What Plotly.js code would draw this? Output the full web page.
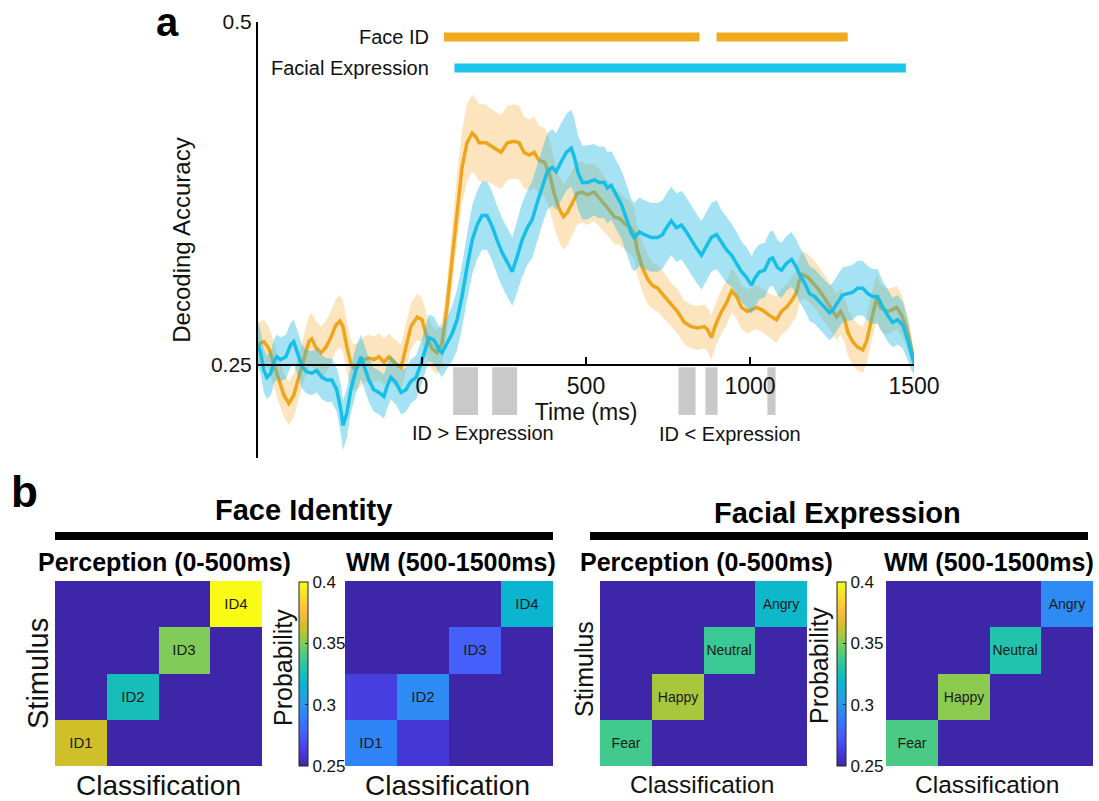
<!DOCTYPE html>
<html>
<head>
<meta charset="utf-8">
<script src="https://cdn.plot.ly/plotly-3.0.1.min.js"></script>
<style>
  html, body { margin: 0; padding: 0; background: #fff; }
  #chart { width: 1099px; height: 801px; }
</style>
</head>
<body>
<div id="chart"></div>
<script>
// ---------------- Panel a: decoding time courses ----------------
const timeTicks = [0, 500, 1000, 1500];
const accTicks = [0.25, 0.5];

const faceIdTime = [-500,-482,-467,-452,-437,-421,-406,-391,-376,-360,
  -345,-336,-324,-308,-293,-278,-263,-250,-241,-229,
  -217,-208,-192,-177,-162,-147,-131,-116,-101,-85,
  -64,-49,-34,-15,0,15,31,46,61,76,
  92,107,122,137,153,165,174,195,214,241,
  260,281,296,311,327,342,357,373,388,403,
  418,431,443,458,473,489,504,525,540,556,
  571,586,602,617,632,647,656,672,687,702,
  718,739,760,779,800,821,840,861,870,882,
  898,913,928,944,959,974,992,1020,1038,1060,
  1081,1096,1111,1127,1142,1151,1160,1176,1191,1206,
  1221,1237,1252,1264,1276,1289,1298,1313,1328,1344,
  1356,1371,1386,1398,1417,1432,1447,1463,1478,1493,
  1500];
const faceIdAcc = [0.265,0.267,0.262,0.251,0.239,0.228,0.222,0.228,0.241,0.255,
  0.267,0.269,0.263,0.259,0.263,0.270,0.279,0.282,0.278,0.263,
  0.251,0.248,0.250,0.254,0.255,0.254,0.256,0.252,0.256,0.252,
  0.248,0.263,0.278,0.285,0.283,0.270,0.262,0.259,0.266,0.292,
  0.329,0.365,0.394,0.412,0.419,0.416,0.412,0.412,0.409,0.405,
  0.412,0.413,0.412,0.405,0.403,0.405,0.399,0.398,0.390,0.375,
  0.364,0.358,0.361,0.368,0.375,0.376,0.374,0.376,0.372,0.367,
  0.363,0.358,0.357,0.353,0.351,0.346,0.334,0.321,0.313,0.308,
  0.306,0.300,0.294,0.289,0.281,0.278,0.277,0.278,0.276,0.270,
  0.281,0.289,0.295,0.304,0.300,0.292,0.289,0.292,0.290,0.286,
  0.283,0.289,0.292,0.297,0.303,0.312,0.316,0.314,0.310,0.306,
  0.301,0.295,0.290,0.285,0.289,0.283,0.274,0.267,0.263,0.261,
  0.268,0.285,0.299,0.292,0.289,0.290,0.292,0.286,0.276,0.261,
  0.252];
const faceIdSem = [0.016,0.016,0.016,0.016,0.016,0.016,0.016,0.016,0.016,0.016,
  0.019,0.019,0.019,0.019,0.019,0.019,0.019,0.019,0.019,0.019,
  0.017,0.017,0.017,0.017,0.017,0.017,0.017,0.017,0.017,0.017,
  0.017,0.017,0.017,0.017,0.016,0.016,0.016,0.016,0.016,0.018,
  0.022,0.025,0.027,0.028,0.028,0.028,0.028,0.028,0.027,0.027,
  0.027,0.027,0.027,0.026,0.026,0.026,0.025,0.025,0.025,0.025,
  0.024,0.024,0.024,0.023,0.023,0.022,0.022,0.021,0.021,0.020,
  0.020,0.020,0.019,0.019,0.019,0.019,0.018,0.018,0.018,0.017,
  0.017,0.017,0.016,0.016,0.016,0.016,0.016,0.016,0.016,0.016,
  0.016,0.016,0.016,0.016,0.016,0.016,0.016,0.016,0.016,0.016,
  0.017,0.017,0.017,0.017,0.017,0.017,0.017,0.017,0.017,0.017,
  0.017,0.017,0.017,0.017,0.017,0.017,0.017,0.017,0.017,0.017,
  0.017,0.017,0.017,0.017,0.017,0.016,0.016,0.015,0.013,0.010,
  0.006];

const exprTime = [-500,-492,-482,-473,-461,-452,-443,-431,-415,-400,
  -391,-382,-366,-351,-336,-321,-305,-290,-275,-260,
  -247,-241,-229,-217,-202,-186,-177,-162,-147,-131,
  -116,-107,-95,-79,-64,-49,-34,-18,-3,12,
  21,37,52,61,76,92,107,122,137,153,
  168,183,198,214,229,244,260,275,290,305,
  321,336,351,366,382,397,409,424,440,455,
  464,476,489,504,525,540,556,565,577,592,
  608,623,638,647,663,678,699,718,733,748,
  760,776,791,806,821,837,852,867,882,898,
  913,928,944,959,974,989,1005,1014,1029,1044,
  1060,1069,1084,1096,1111,1127,1142,1151,1166,1182,
  1197,1212,1227,1243,1252,1267,1282,1298,1313,1328,
  1344,1359,1374,1389,1405,1420,1435,1450,1466,1481,
  1492,1500];
const exprAcc = [0.265,0.259,0.246,0.241,0.244,0.252,0.256,0.254,0.256,0.265,
  0.267,0.261,0.249,0.245,0.244,0.246,0.241,0.239,0.239,0.232,
  0.217,0.206,0.215,0.232,0.246,0.256,0.250,0.239,0.232,0.230,
  0.227,0.234,0.241,0.237,0.230,0.232,0.238,0.241,0.251,0.263,
  0.270,0.268,0.261,0.259,0.266,0.273,0.283,0.300,0.321,0.341,
  0.352,0.359,0.359,0.351,0.341,0.332,0.325,0.318,0.329,0.341,
  0.350,0.356,0.368,0.380,0.391,0.394,0.391,0.398,0.405,0.408,
  0.402,0.390,0.383,0.383,0.385,0.383,0.383,0.379,0.381,0.374,
  0.367,0.357,0.346,0.343,0.347,0.345,0.343,0.343,0.345,0.351,
  0.355,0.350,0.352,0.347,0.341,0.335,0.330,0.336,0.343,0.345,
  0.339,0.334,0.330,0.324,0.318,0.314,0.308,0.313,0.318,0.319,
  0.327,0.328,0.321,0.319,0.324,0.327,0.321,0.316,0.310,0.302,
  0.300,0.296,0.292,0.288,0.290,0.296,0.301,0.302,0.303,0.306,
  0.306,0.302,0.300,0.300,0.292,0.286,0.281,0.283,0.279,0.268,
  0.258,0.251];
const exprSem = [0.016,0.016,0.016,0.016,0.016,0.016,0.016,0.016,0.016,0.016,
  0.016,0.016,0.016,0.016,0.016,0.016,0.016,0.016,0.016,0.016,
  0.018,0.018,0.018,0.017,0.017,0.016,0.016,0.016,0.016,0.016,
  0.016,0.016,0.016,0.016,0.016,0.016,0.016,0.016,0.016,0.017,
  0.017,0.017,0.017,0.018,0.019,0.020,0.022,0.023,0.024,0.025,
  0.025,0.025,0.025,0.025,0.025,0.025,0.025,0.025,0.026,0.027,
  0.027,0.028,0.028,0.028,0.028,0.028,0.028,0.028,0.028,0.028,
  0.028,0.027,0.027,0.027,0.026,0.026,0.026,0.026,0.025,0.025,
  0.025,0.025,0.025,0.025,0.025,0.025,0.025,0.025,0.025,0.025,
  0.025,0.025,0.025,0.025,0.025,0.025,0.025,0.025,0.025,0.025,
  0.024,0.024,0.023,0.023,0.022,0.022,0.021,0.021,0.020,0.020,
  0.020,0.020,0.020,0.020,0.020,0.020,0.020,0.020,0.020,0.020,
  0.020,0.020,0.020,0.020,0.020,0.020,0.020,0.020,0.020,0.020,
  0.020,0.020,0.020,0.020,0.019,0.019,0.018,0.018,0.017,0.015,
  0.012,0.008];

// significance bars (ms)
const faceIdSigStart = [67, 898];
const faceIdSigEnd   = [846, 1298];
const exprSigStart   = [99];
const exprSigEnd     = [1475];
const faceIdSigLevel = 0.489;
const exprSigLevel   = 0.4665;
// ID vs expression difference windows (ms)
const diffStart = [95, 214, 782, 864, 1053];
const diffEnd   = [171, 290, 834, 901, 1078];

// ---------------- Panel b: confusion matrices ----------------
const faceLabels = ['ID1', 'ID2', 'ID3', 'ID4'];
const exprLabels = ['Fear', 'Happy', 'Neutral', 'Angry'];
const cbTicks = [0.25, 0.3, 0.35, 0.4];
const cbTickText = ['0.25', '0.3', '0.35', '0.4'];
// rows: stimulus (bottom to top), columns: classification (left to right)
const facePercZ = [
  [0.364, 0.21, 0.21, 0.21],
  [0.22, 0.325, 0.22, 0.22],
  [0.21, 0.22, 0.350, 0.21],
  [0.20, 0.20, 0.20, 0.400]
];
const faceWmZ = [
  [0.292, 0.260, 0.225, 0.225],
  [0.263, 0.295, 0.22, 0.22],
  [0.24, 0.24, 0.277, 0.24],
  [0.23, 0.23, 0.23, 0.317]
];
const exprPercZ = [
  [0.338, 0.22, 0.22, 0.22],
  [0.21, 0.357, 0.21, 0.21],
  [0.22, 0.22, 0.336, 0.22],
  [0.23, 0.23, 0.23, 0.319]
];
const exprWmZ = [
  [0.340, 0.22, 0.22, 0.22],
  [0.21, 0.352, 0.21, 0.21],
  [0.22, 0.22, 0.329, 0.22],
  [0.24, 0.24, 0.24, 0.295]
];

// MATLAB parula colormap (sampled rows)
const parula = [
  [0.000, 'rgb(62,38,168)'], [0.0635, 'rgb(69,55,213)'], [0.127, 'rgb(72,77,240)'],
  [0.1905, 'rgb(69,99,253)'], [0.254, 'rgb(50,124,252)'], [0.3175, 'rgb(43,145,239)'],
  [0.381, 'rgb(32,165,227)'], [0.444, 'rgb(8,181,208)'], [0.508, 'rgb(25,191,182)'],
  [0.571, 'rgb(55,200,151)'], [0.635, 'rgb(100,205,111)'], [0.698, 'rgb(157,201,67)'],
  [0.762, 'rgb(209,191,39)'], [0.825, 'rgb(248,186,61)'], [0.889, 'rgb(252,207,48)'],
  [0.952, 'rgb(245,233,36)'], [1.000, 'rgb(249,251,21)']
];

// ---------------- helpers ----------------
const W = 1099, H = 801;
const px = x => x / W;
const py = y => 1 - y / H;
const FONT = 'Liberation Sans, Arial, Helvetica, sans-serif';

const ORANGE = '#EEA51B';
const CYAN = '#17BFE8';

function band(t, v, s, fill) {
  const xs = t.concat(t.slice().reverse());
  const ys = v.map((a, i) => a + s[i]).concat(v.map((a, i) => a - s[i]).reverse());
  return { type: 'scatter', mode: 'lines', x: xs, y: ys, fill: 'toself', fillcolor: fill,
           line: { width: 0 }, hoverinfo: 'skip', showlegend: false, xaxis: 'x', yaxis: 'y' };
}
function sigLine(starts, ends, level, color) {
  const xs = [], ys = [];
  starts.forEach((s, i) => { xs.push(s, ends[i], null); ys.push(level, level, null); });
  return { type: 'scatter', mode: 'lines', x: xs, y: ys, line: { color: color, width: 9 },
           hoverinfo: 'skip', showlegend: false, xaxis: 'x', yaxis: 'y' };
}
function diagText(labels) {
  return labels.map((r, i) => labels.map((c, j) => (i === j ? labels[i] : '')));
}
function heat(z, labels, ax, fontSize, cb) {
  const tr = {
    type: 'heatmap', z: z, x: [0, 1, 2, 3], y: [0, 1, 2, 3],
    colorscale: parula, zmin: 0.25, zmax: 0.4,
    text: diagText(labels), texttemplate: '%{text}',
    textfont: { family: FONT, size: fontSize, color: '#1a1a1a' },
    xaxis: 'x' + ax, yaxis: 'y' + ax, hoverinfo: 'skip', showscale: !!cb
  };
  if (cb) {
    tr.colorbar = {
      x: px(cb.x), xanchor: 'left', xpad: 0, y: py(674), yanchor: 'middle', ypad: 0,
      len: 184, lenmode: 'pixels', thickness: 9, thicknessmode: 'pixels',
      outlinewidth: 1, outlinecolor: '#222', borderwidth: 0,
      tickvals: cbTicks, ticktext: cbTickText, ticks: 'inside', ticklen: 3, tickcolor: '#222',
      tickfont: { family: FONT, size: 17, color: '#111' }
    };
  }
  return tr;
}

const data = [
  band(faceIdTime, faceIdAcc, faceIdSem, 'rgba(245,180,70,0.35)'),
  { type: 'scatter', mode: 'lines', x: faceIdTime, y: faceIdAcc, line: { color: ORANGE, width: 3.5 },
    hoverinfo: 'skip', showlegend: false, xaxis: 'x', yaxis: 'y' },
  band(exprTime, exprAcc, exprSem, 'rgba(40,185,228,0.42)'),
  { type: 'scatter', mode: 'lines', x: exprTime, y: exprAcc, line: { color: CYAN, width: 3.5 },
    hoverinfo: 'skip', showlegend: false, xaxis: 'x', yaxis: 'y' },
  sigLine(faceIdSigStart, faceIdSigEnd, faceIdSigLevel, '#EFAA1E'),
  sigLine(exprSigStart, exprSigEnd, exprSigLevel, '#1BC5EC'),
  heat(facePercZ, faceLabels, 2, 15, { x: 299 }),
  heat(faceWmZ, faceLabels, 3, 15, null),
  heat(exprPercZ, exprLabels, 4, 14, { x: 837 }),
  heat(exprWmZ, exprLabels, 5, 14, null)
];

function hAxis(x0, x1, anchor) {
  return { domain: [px(x0), px(x1)], range: [-0.5, 3.5], anchor: anchor, visible: false, fixedrange: true };
}
function vAxis(anchor) {
  return { domain: [py(766), py(581)], range: [-0.5, 3.5], anchor: anchor, visible: false, fixedrange: true };
}

const shapes = diffStart.map((s, i) => ({
  type: 'rect', xref: 'x', yref: 'y', x0: s, x1: diffEnd[i], y0: 0.2136, y1: 0.2483,
  fillcolor: '#C9C9C9', line: { width: 0 }, layer: 'below'
}));
shapes.push({ type: 'line', xref: 'paper', yref: 'paper', x0: px(55), x1: px(553), y0: py(536), y1: py(536),
  line: { color: '#000', width: 8 } });
shapes.push({ type: 'line', xref: 'paper', yref: 'paper', x0: px(590), x1: px(1088), y0: py(536), y1: py(536),
  line: { color: '#000', width: 8 } });

function ann(text, x, y, size, opts) {
  return Object.assign({ text: text, x: px(x), y: py(y), xref: 'paper', yref: 'paper', showarrow: false,
    xanchor: 'center', yanchor: 'middle', font: { family: FONT, size: size, color: '#111' } }, opts || {});
}
const bold = (size) => ({ family: FONT, size: size, color: '#000', weight: 700 });

const annotations = [
  ann('a', 167, 22, 40, { font: bold(40) }),
  ann('b', 24, 492, 44, { font: bold(44) }),
  ann('Face ID', 431, 37, 20, { xanchor: 'right' }),
  ann('Facial Expression', 431, 68, 20, { xanchor: 'right' }),
  ann('ID &gt; Expression', 483, 433, 20),
  ann('ID &lt; Expression', 730, 434, 20),
  ann('Face Identity', 303, 510, 29, { font: bold(29) }),
  ann('Facial Expression', 837, 513, 29, { font: bold(29) }),
  ann('Perception (0-500ms)', 164, 562, 25, { font: bold(25) }),
  ann('WM (500-1500ms)', 451, 562, 25, { font: bold(25) }),
  ann('Perception (0-500ms)', 706, 562, 25, { font: bold(25) }),
  ann('WM (500-1500ms)', 989, 562, 25, { font: bold(25) }),
  ann('Stimulus', 38, 674, 29, { textangle: -90 }),
  ann('Stimulus', 584, 669, 25, { textangle: -90 }),
  ann('Probability', 283, 668, 25, { textangle: -90 }),
  ann('Probability', 819, 665, 25, { textangle: -90 }),
  ann('Classification', 158, 785, 28),
  ann('Classification', 447, 785, 28),
  ann('Classification', 702, 784, 24.5),
  ann('Classification', 987, 784, 24.5)
];

const layout = {
  width: W, height: H,
  margin: { l: 0, r: 0, t: 0, b: 0 },
  paper_bgcolor: '#fff', plot_bgcolor: 'rgba(0,0,0,0)',
  font: { family: FONT, color: '#111' },
  showlegend: false,
  xaxis: {
    domain: [px(258), px(914)], range: [-500, 1500], anchor: 'free', position: py(365),
    showline: true, linecolor: '#000', linewidth: 2,
    ticks: 'inside', ticklen: 7, tickwidth: 2, tickcolor: '#000',
    tickvals: timeTicks, ticktext: timeTicks.map(String),
    tickfont: { family: FONT, size: 23, color: '#111' },
    showgrid: false, zeroline: false, fixedrange: true,
    title: { text: 'Time (ms)', font: { family: FONT, size: 23, color: '#111' }, standoff: 2 }
  },
  yaxis: {
    domain: [py(458), py(22)], range: [0.18222, 0.5], anchor: 'x',
    showline: true, linecolor: '#000', linewidth: 2,
    ticks: 'inside', ticklen: 7, tickwidth: 2, tickcolor: '#000',
    tickvals: accTicks, ticktext: accTicks.map(String),
    tickfont: { family: FONT, size: 21, color: '#111' },
    showgrid: false, zeroline: false, fixedrange: true,
    title: { text: 'Decoding Accuracy', font: { family: FONT, size: 24, color: '#111' }, standoff: 14 }
  },
  xaxis2: hAxis(55, 262, 'y2'), yaxis2: vAxis('x2'),
  xaxis3: hAxis(345, 553, 'y3'), yaxis3: vAxis('x3'),
  xaxis4: hAxis(600, 807, 'y4'), yaxis4: vAxis('x4'),
  xaxis5: hAxis(886, 1093, 'y5'), yaxis5: vAxis('x5'),
  shapes: shapes,
  annotations: annotations
};

Plotly.newPlot('chart', data, layout, { staticPlot: true, displayModeBar: false });
</script>
</body>
</html>
